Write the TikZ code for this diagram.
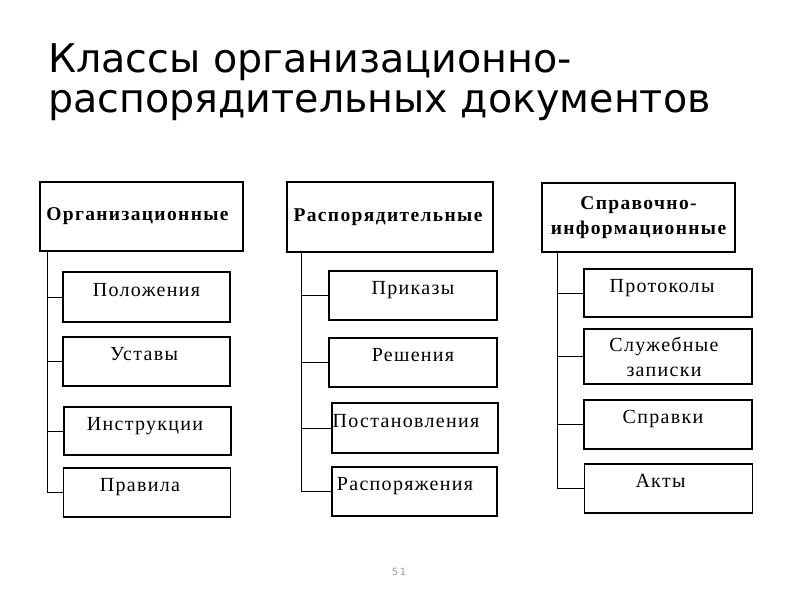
\documentclass[tikz,border=0pt]{standalone}
\usepackage{fontspec}
\setmainfont{Liberation Serif}
\newfontfamily\titlefont{DejaVu Sans}
\newfontfamily\pagefont{DejaVu Sans}
\newcommand{\txtmove}[1]{\hspace*{-#1}}
\begin{document}
\begin{tikzpicture}[x=1pt,y=-1pt,
  headbox/.style={draw, line width=1.8pt, inner sep=0pt, align=center,
    font=\fontsize{19.5}{25}\selectfont\bfseries\addfontfeatures{LetterSpace=7}},
  childbox/.style={draw, line width=1.1pt, inner sep=0pt, align=center,
    minimum width=167pt, minimum height=49pt, text height=12pt, text depth=14pt,
    font=\fontsize{20}{25}\selectfont\addfontfeatures{LetterSpace=6.5}},
  twoline/.style={text height=, text depth=},
  conn/.style={line width=0.9pt}]
\useasboundingbox (0,0) rectangle (800,600);
\fill[white] (0,0) rectangle (800,600);
% title
\node[anchor=base west, inner sep=0pt, font=\titlefont\fontsize{39.6}{40}\selectfont] (t1) at (48,72) {Классы организационно-};
\node[anchor=base west, inner sep=0pt, font=\titlefont\fontsize{39.6}{40}\selectfont] (t2) at (48,112) {распорядительных документов};
% headers
\node[headbox, minimum width=203pt, minimum height=69pt] (h1) at (141.5,216.5) {\txtmove{8pt}Организационные};
\node[headbox, minimum width=206pt, minimum height=70pt] (h2) at (390,217) {\txtmove{4pt}Распорядительные};
\node[headbox, minimum width=193pt, minimum height=69pt] (h3) at (638.5,217.5) {Справочно-\\информационные};
% column 1
\node[childbox, minimum height=50pt] (c11) at (146.5,297) {Положения};
\node[childbox] (c12) at (146.5,361.5) {\txtmove{5pt}Уставы};
\node[childbox, minimum height=48pt] (c13) at (147.5,431) {\txtmove{5pt}Инструкции};
\node[childbox] (c14) at (147,492.5) {\txtmove{14pt}Правила};
% column 2
\node[childbox, minimum width=168pt] (c21) at (413,295.5) {Приказы};
\node[childbox, minimum width=168pt] (c22) at (413,362.5) {Решения};
\node[childbox, minimum width=166pt, minimum height=50pt] (c23) at (415,428) {\txtmove{18pt}Постановления};
\node[childbox, minimum width=165pt] (c24) at (414.5,491.5) {\txtmove{19pt}Распоряжения};
% column 3
\node[childbox, minimum width=168pt, minimum height=48pt] (c31) at (668,293) {\txtmove{12pt}Протоколы};
\node[childbox, minimum width=168pt, minimum height=55pt, twoline] (c32) at (668,356.5) {\txtmove{8pt}Служебные\\\txtmove{8pt}записки};
\node[childbox, minimum width=168pt] (c33) at (668,424.5) {\txtmove{10pt}Справки};
\node[childbox, minimum width=168pt] (c34) at (668.5,488.5) {\txtmove{16pt}Акты};
% connector coordinates
\coordinate (v1) at (47,251);
\coordinate (v2) at (301,252);
\coordinate (v3) at (557,252);
% column 1 connectors
\draw[conn] (v1) |- (c14.west);
\draw[conn] (c11.west -| v1) -- (c11.west);
\draw[conn] (c12.west -| v1) -- (c12.west);
\draw[conn] (c13.west -| v1) -- (c13.west);
% column 2 connectors
\draw[conn] (v2) |- (c24.west);
\draw[conn] (c21.west -| v2) -- (c21.west);
\draw[conn] (c22.west -| v2) -- (c22.west);
\draw[conn] (c23.west -| v2) -- (c23.west);
% column 3 connectors
\draw[conn] (v3) |- (c34.west);
\draw[conn] (c31.west -| v3) -- (c31.west);
\draw[conn] (c32.west -| v3) -- (c32.west);
\draw[conn] (c33.west -| v3) -- (c33.west);
% page number
\node[inner sep=0pt, text=black!40, font=\pagefont\fontsize{10}{12}\selectfont\addfontfeatures{LetterSpace=15}] (pg) at (399,572) {51};
\end{tikzpicture}
\end{document}
